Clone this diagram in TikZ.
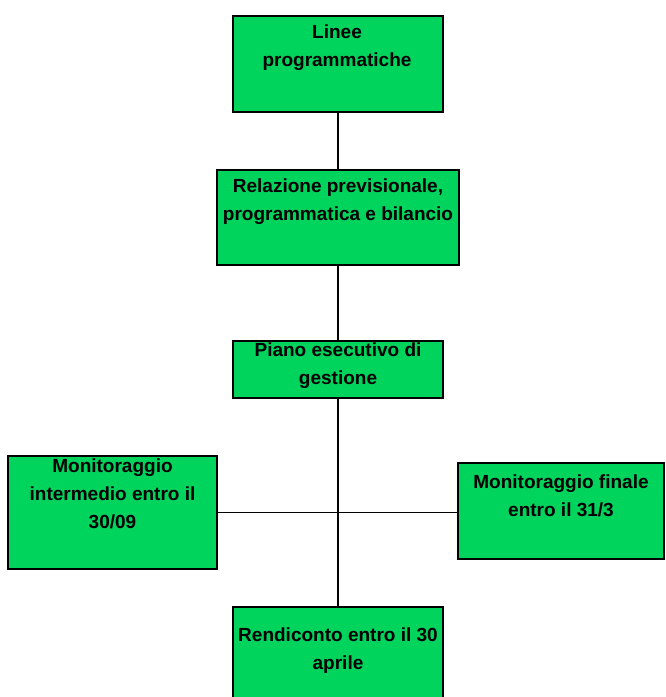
\documentclass[tikz,border=0pt]{standalone}
\usepackage{fontspec}
\setmainfont{Liberation Sans}
\usepackage{tikz}
\definecolor{boxgreen}{RGB}{0,212,92}
\tikzstyle{greenbox} = [draw=black, fill=boxgreen, line width=1.3pt,
    rectangle, inner sep=0pt]
\tikzstyle{boxtext} =[text=black, align=center, inner sep=0pt,
    font=\fontsize{19}{28}\selectfont\bfseries]
\tikzstyle{link} = [draw=black, line width=1.2pt]

\begin{document}
\begin{tikzpicture}[x=1pt, y=-1pt]
                \useasboundingbox (0,0) rectangle (665,697);
                \clip (0,0) rectangle (665,697);
                % boxes
                \node [greenbox, minimum width=210pt, minimum height=96pt] (linee) at (338,64) {};
                \node [greenbox, minimum width=242pt, minimum height=95pt] (rpp) at (338,217.5) {};
                \node [greenbox, minimum width=210pt, minimum height=57pt] (peg) at (338,369.5) {};
                \node [greenbox, minimum width=209pt, minimum height=113pt] (monint) at (112.5,512.5) {};
                \node [greenbox, minimum width=206pt, minimum height=96pt] (monfin) at (561,511) {};
                \node [greenbox, minimum width=210pt, minimum height=92pt] (rendiconto) at (338,653) {};
                % texts
                \node [boxtext] (lineetext) at (337,48) {Linee\\programmatiche};
                \node [boxtext] (rpptext) at (338,201.5) {Relazione previsionale,\\programmatica e bilancio};
                \node [boxtext] (pegtext) at (338,366) {Piano esecutivo di\\gestione};
                \node [boxtext] (moninttext) at (112.5,494) {Monitoraggio\\intermedio entro il\\30/09};
                \node [boxtext] (monfintext) at (561,496) {Monitoraggio finale\\entro il 31/3};
                \node [boxtext] (rendicontotext) at (338,651) {Rendiconto entro il 30\\aprile};
                % connectors
                \draw [link] (linee.south) -- (rpp.north);
                \draw [link] (rpp.south) -- (peg.north);
                \draw [link] (peg.south) -- (rendiconto.north);
                \draw [link] (monint.east) -- (monint.east -| monfin.west);
            \end{tikzpicture}
\end{document}
